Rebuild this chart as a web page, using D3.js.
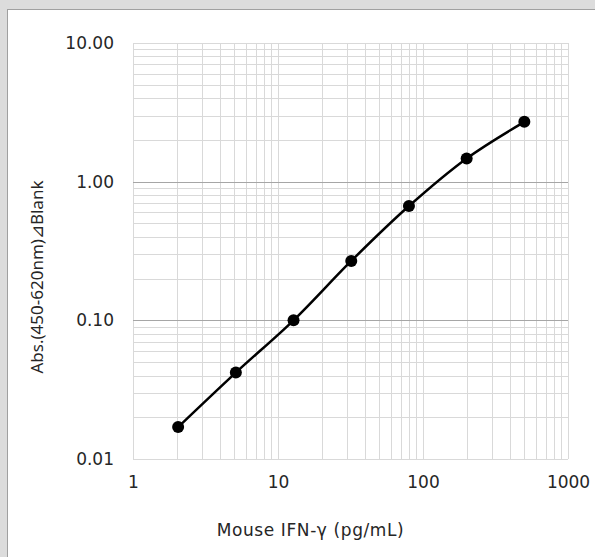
<!DOCTYPE html>
<html>
<head>
<meta charset="utf-8">
<script src="https://cdn.jsdelivr.net/npm/d3@7"></script>
<style>
  body { margin: 0; background: #dcdcdc; }
  svg { display: block; }
</style>
</head>
<body>
<script>
// standard curve data (x = concentration, y = absorbance)
var concentrations = [2.048, 5.12, 12.8, 32, 80, 200, 500];
var absorbances = [0.017, 0.042, 0.100, 0.268, 0.667, 1.47, 2.70];
var xTicks = [1, 10, 100, 1000];
var yTicks = [0.01, 0.1, 1, 10];
var xTitle = 'Mouse IFN-γ (pg/mL)';
var yTitle = 'Abs.(450-620nm)⊿Blank';

var width = 595;
var height = 557;
var margin = { top: 43, right: 27, bottom: 98, left: 133 };

var svg = d3.select('body').append('svg')
  .attr('width', width)
  .attr('height', height);

// grey outer background with white panel
svg.append('rect')
  .attr('x', 0).attr('y', 0)
  .attr('width', width).attr('height', height)
  .style('fill', '#dcdcdc');
svg.append('rect')
  .attr('x', 7.5).attr('y', 9.5)
  .attr('width', width).attr('height', height)
  .style('fill', '#ffffff')
  .style('stroke', '#a0a0a0')
  .style('stroke-width', 1);

var x = d3.scaleLog().domain([1, 1000]).range([margin.left, width - margin.right]);
var y = d3.scaleLog().domain([0.01, 10]).range([height - margin.bottom, margin.top]);

// minor ticks for every decade
var xMinor = [];
var yMinor = [];
for (var d = 0; d < 3; d++) {
  for (var k = 2; k <= 9; k++) {
    xMinor.push(k * Math.pow(10, d));
    yMinor.push(k * Math.pow(10, d - 2));
  }
}

var grid = svg.append('g').attr('class', 'grid');

grid.selectAll('line.xminor')
  .data(xMinor.concat(xTicks))
  .enter()
  .append('line')
  .attr('class', 'xminor')
  .attr('x1', function (d) { return Math.round(x(d)) + 0.5; })
  .attr('x2', function (d) { return Math.round(x(d)) + 0.5; })
  .attr('y1', y(0.01))
  .attr('y2', y(10))
  .style('stroke', '#d9d9d9')
  .style('stroke-width', 1);

grid.selectAll('line.yminor')
  .data(yMinor)
  .enter()
  .append('line')
  .attr('class', 'yminor')
  .attr('x1', x(1))
  .attr('x2', x(1000))
  .attr('y1', function (d) { return Math.round(y(d)) + 0.5; })
  .attr('y2', function (d) { return Math.round(y(d)) + 0.5; })
  .style('stroke', '#d9d9d9')
  .style('stroke-width', 1);

// major horizontal lines (darker), outer edges stay light
grid.selectAll('line.ymajor')
  .data(yTicks)
  .enter()
  .append('line')
  .attr('class', 'ymajor')
  .attr('x1', x(1))
  .attr('x2', x(1000))
  .attr('y1', function (d) { return Math.round(y(d)) + 0.5; })
  .attr('y2', function (d) { return Math.round(y(d)) + 0.5; })
  .style('stroke', function (d) { return (d === 0.01 || d === 10) ? '#d9d9d9' : '#a6a6a6'; })
  .style('stroke-width', 1);

// axes (labels only)
var xAxis = svg.append('g')
  .attr('transform', 'translate(0,' + (height - margin.bottom) + ')')
  .call(d3.axisBottom(x).tickValues(xTicks).tickSize(0).tickPadding(17)
    .tickFormat(d3.format('d')));
var yAxis = svg.append('g')
  .attr('transform', 'translate(' + margin.left + ',0)')
  .call(d3.axisLeft(y).tickValues(yTicks).tickSize(0).tickPadding(19)
    .tickFormat(d3.format('.2f')));

[xAxis, yAxis].forEach(function (a) {
  a.select('.domain').remove();
  a.selectAll('text')
    .style('font-family', '"DejaVu Sans", Verdana, sans-serif')
    .style('font-size', '17px')
    .style('fill', '#262626');
});

// axis titles
svg.append('text')
  .attr('x', 310.5)
  .attr('y', 536)
  .attr('text-anchor', 'middle')
  .style('font-family', '"DejaVu Sans", Verdana, sans-serif')
  .style('font-size', '17px')
  .style('letter-spacing', '0.6px')
  .style('fill', '#262626')
  .text(xTitle);

svg.append('text')
  .attr('transform', 'translate(43,277) rotate(-90)')
  .attr('text-anchor', 'middle')
  .style('font-family', '"Noto Sans", "Open Sans", sans-serif')
  .style('font-size', '17px')
  .style('fill', '#262626')
  .text(yTitle);

// curve and markers
var pts = concentrations.map(function (c, i) { return [c, absorbances[i]]; });

var line = d3.line()
  .x(function (d) { return x(d[0]); })
  .y(function (d) { return y(d[1]); })
  .curve(d3.curveCatmullRom.alpha(0.5));

svg.append('path')
  .datum(pts)
  .attr('d', line)
  .style('fill', 'none')
  .style('stroke', '#000000')
  .style('stroke-width', 2.5);

svg.selectAll('circle.pt')
  .data(pts)
  .enter()
  .append('circle')
  .attr('class', 'pt')
  .attr('cx', function (d) { return x(d[0]); })
  .attr('cy', function (d) { return y(d[1]); })
  .attr('r', 6)
  .style('fill', '#000000');
</script>
</body>
</html>
